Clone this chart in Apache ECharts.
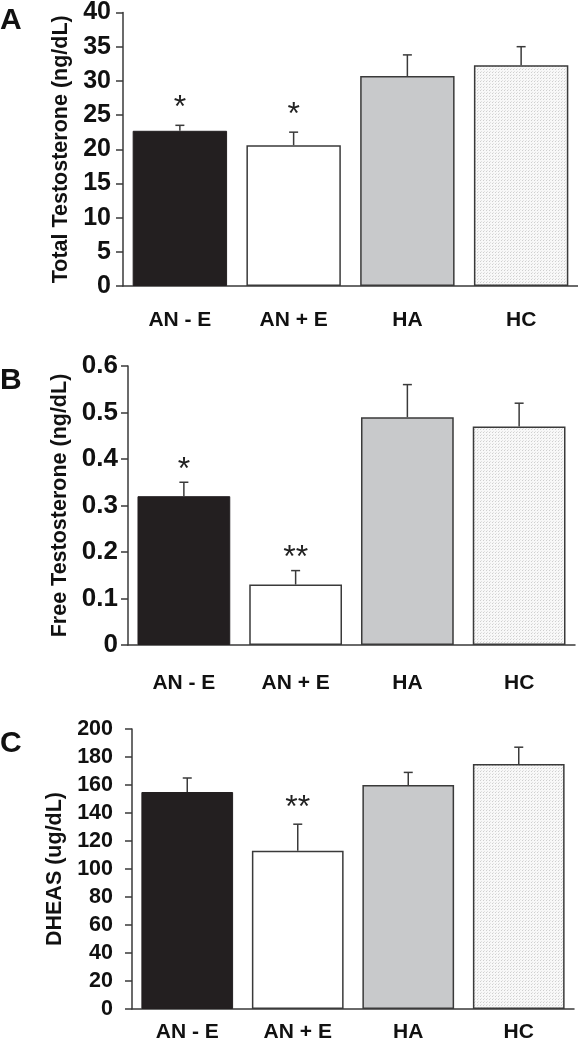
<!DOCTYPE html>
<html>
<head>
<meta charset="utf-8">
<script src="https://cdn.jsdelivr.net/npm/echarts@6/dist/echarts.min.js"></script>
<style>
  html, body { margin: 0; padding: 0; background: #ffffff; }
  #chart { width: 578px; height: 1050px; }
</style>
</head>
<body>
<div id="chart"></div>
<script>
// ---------------- data ----------------
const categories = ['AN - E', 'AN + E', 'HA', 'HC'];

const totalTestosterone = [22.7, 20.6, 30.7, 32.3];
const totalTestosteroneErr = [0.8, 1.9, 3.1, 2.7];
const totalTestosteroneSig = ['*', '*', '', ''];

const freeTestosterone = [0.32, 0.13, 0.49, 0.47];
const freeTestosteroneErr = [0.03, 0.03, 0.07, 0.05];
const freeTestosteroneSig = ['*', '**', '', ''];

const dheas = [155, 113, 160, 175];
const dheasErr = [10, 19, 9, 12];
const dheasSig = ['', '**', '', ''];

const axisA = { min: 0, max: 40, interval: 5 };
const axisB = { min: 0, max: 0.6, interval: 0.1 };
const axisC = { min: 0, max: 200, interval: 20 };

// ---------------- styling ----------------
const FONT = '"Liberation Sans", Arial, Helvetica, sans-serif';
const INK = '#111111';
const LINE = '#3a3a3a';

function makeDotPattern() {
  const c = document.createElement('canvas');
  c.width = 3; c.height = 3;
  const ctx = c.getContext('2d');
  ctx.fillStyle = '#f8f8f8';
  ctx.fillRect(0, 0, 3, 3);
  ctx.fillStyle = '#cfcfcf';
  ctx.fillRect(0, 0, 1, 1);
  ctx.fillStyle = '#e2e2e2';
  ctx.fillRect(1, 2, 1, 1);
  return c;
}
const dotPattern = makeDotPattern();

const barStyles = [
  { color: '#231f20', borderColor: '#231f20', borderWidth: 1 },
  { color: '#ffffff', borderColor: LINE, borderWidth: 1.5 },
  { color: '#c8c9cb', borderColor: LINE, borderWidth: 1.5 },
  { color: { image: dotPattern, repeat: 'repeat' }, borderColor: LINE, borderWidth: 1.5 }
];

const grids = [
  { left: 123, top: 7, width: 455, height: 279 },
  { left: 128, top: 366, width: 447, height: 279 },
  { left: 132, top: 729, width: 442, height: 280 }
];

const panels = [
  { values: totalTestosterone, err: totalTestosteroneErr, sig: totalTestosteroneSig, axis: axisA,
    name: 'Total Testosterone (ng/dL)', nameGap: 51, labelMargin: 12, xMargin: 24, tickFont: 25, sigGap: 17 },
  { values: freeTestosterone, err: freeTestosteroneErr, sig: freeTestosteroneSig, axis: axisB,
    name: 'Free Testosterone (ng/dL)', nameGap: 56, labelMargin: 10, xMargin: 28, tickFont: 26, sigGap: 12 },
  { values: dheas, err: dheasErr, sig: dheasSig, axis: axisC,
    name: 'DHEAS (ug/dL)', nameGap: 64, labelMargin: 19, xMargin: 13, tickFont: 21.5, sigGap: 16 }
];

const xAxes = [], yAxes = [], series = [];
panels.forEach((p, gi) => {
  xAxes.push({
    type: 'category', gridIndex: gi, data: categories,
    axisLine: { show: true, lineStyle: { color: LINE, width: 1.5 } },
    axisTick: { show: false },
    axisLabel: { color: INK, fontFamily: FONT, fontWeight: 'bold', fontSize: 21, margin: p.xMargin },
    splitLine: { show: false }
  });
  yAxes.push({
    type: 'value', gridIndex: gi, min: p.axis.min, max: p.axis.max, interval: p.axis.interval,
    name: p.name, nameLocation: 'middle', nameRotate: 90, nameGap: p.nameGap,
    nameTextStyle: { color: INK, fontFamily: FONT, fontWeight: 'bold', fontSize: 21.5 },
    axisLine: { show: true, lineStyle: { color: LINE, width: 1.5 } },
    axisTick: { show: true, inside: false, length: 7, lineStyle: { color: LINE, width: 1.5 } },
    axisLabel: { color: INK, fontFamily: FONT, fontWeight: 'bold', fontSize: p.tickFont, margin: p.labelMargin },
    splitLine: { show: false }
  });
  series.push({
    type: 'bar', xAxisIndex: gi, yAxisIndex: gi, barCategoryGap: '17%',
    data: p.values.map((v, i) => ({ value: v, itemStyle: barStyles[i] })),
    silent: true, animation: false, z: 2
  });
  const sig = p.sig;
  const sigGap = p.sigGap;
  series.push({
    type: 'custom', xAxisIndex: gi, yAxisIndex: gi, z: 5, silent: true, animation: false,
    data: p.values.map((v, i) => [i, v, v + p.err[i]]),
    encode: { x: 0, y: [1, 2] },
    renderItem: function (params, api) {
      const base = api.coord([api.value(0), api.value(1)]);
      const top = api.coord([api.value(0), api.value(2)]);
      const capHalf = 4.5;
      const style = { stroke: LINE, lineWidth: 1.5 };
      const children = [
        { type: 'line', shape: { x1: base[0], y1: base[1], x2: top[0], y2: top[1] }, style: style },
        { type: 'line', shape: { x1: top[0] - capHalf, y1: top[1], x2: top[0] + capHalf, y2: top[1] }, style: style }
      ];
      const s = sig[params.dataIndex];
      if (s) {
        children.push({
          type: 'text',
          style: { text: s, x: top[0], y: top[1] - sigGap, align: 'center', verticalAlign: 'middle',
                   font: '32px ' + FONT, fill: '#222222' }
        });
      }
      return { type: 'group', children: children };
    }
  });
});

const letterFont = 'bold 30px ' + FONT;
const chart = echarts.init(document.getElementById('chart'), null, { renderer: 'canvas' });
chart.setOption({
  backgroundColor: '#ffffff',
  animation: false,
  grid: grids,
  xAxis: xAxes,
  yAxis: yAxes,
  series: series,
  graphic: [
    { type: 'text', left: 0, top: 6, style: { text: 'A', font: letterFont, fill: INK } },
    { type: 'text', left: 0, top: 366, style: { text: 'B', font: letterFont, fill: INK } },
    { type: 'text', left: 0, top: 729, style: { text: 'C', font: letterFont, fill: INK } }
  ]
});
</script>
</body>
</html>
